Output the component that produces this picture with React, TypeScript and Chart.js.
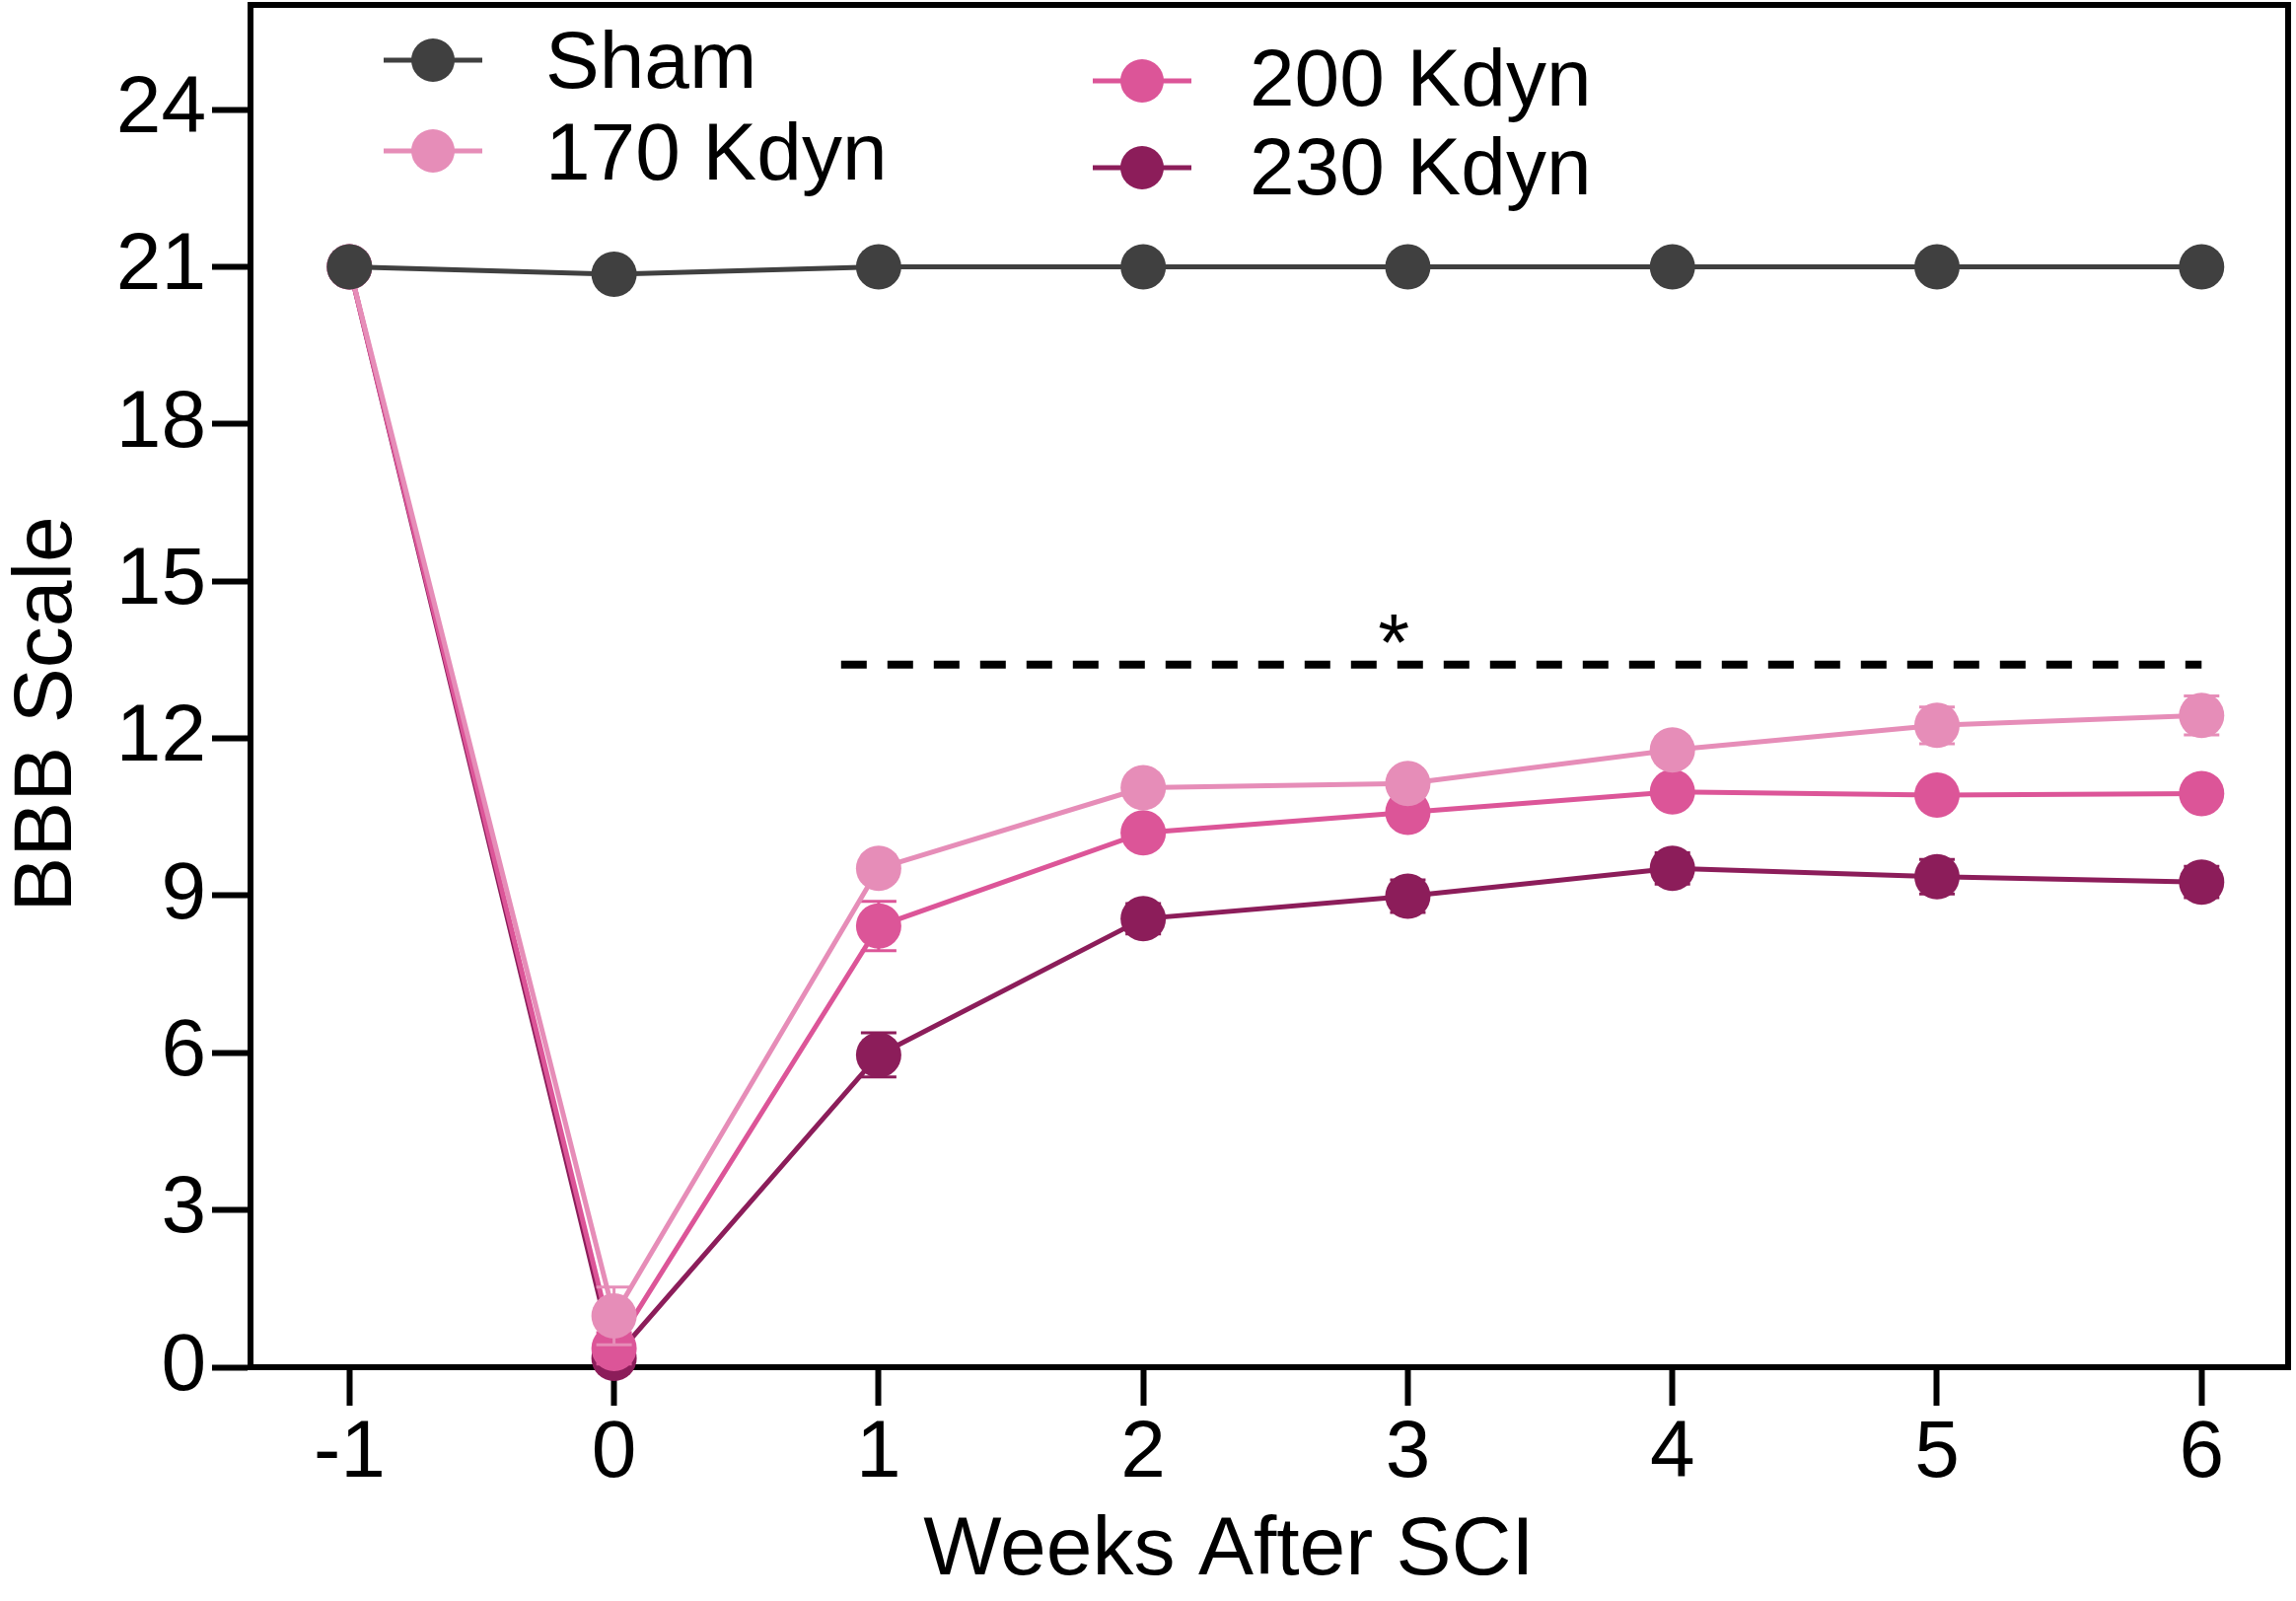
import React, { useEffect, useRef } from "react";
import { Chart, registerables } from "chart.js";

Chart.register(...registerables);

// ---------- data ----------
const weeks = [-1, 0, 1, 2, 3, 4, 5, 6];
const xTickValues = [-1, 0, 1, 2, 3, 4, 5, 6];
const xTickLabels = ["-1", "0", "1", "2", "3", "4", "5", "6"];
const yTickValues = [0, 3, 6, 9, 12, 15, 18, 21, 24];
const seriesNames = ["Sham", "170 Kdyn", "200 Kdyn", "230 Kdyn"];
const seriesColors = ["#404040", "#E68DB8", "#DC5598", "#8C1D5A"];

const shamMean = [21, 20.86, 21, 21, 21, 21, 21, 21];
const k170Mean = [21, 0.98, 9.52, 11.06, 11.14, 11.78, 12.25, 12.44];
const k200Mean = [21, 0.36, 8.42, 10.2, 10.59, 10.98, 10.92, 10.95];
const k230Mean = [21, 0.17, 5.96, 8.56, 8.99, 9.52, 9.36, 9.26];

const shamSem = [0, 0.08, 0, 0, 0, 0, 0, 0];
const k170Sem = [0, 0.55, 0.25, 0.2, 0.2, 0.25, 0.35, 0.37];
const k200Sem = [0, 0.3, 0.47, 0.2, 0.25, 0.2, 0.2, 0.2];
const k230Sem = [0, 0.15, 0.42, 0.29, 0.31, 0.3, 0.33, 0.3];

const sigLineRange = [0.858, 6.0];
const sigLineValue = 13.41;
const sigStarText = "*";
const sigStarWeek = 2.947;
const sigStarValue = 13.32;

const xTitle = "Weeks After SCI";
const yTitle = "BBB Scale";

const means = [shamMean, k170Mean, k200Mean, k230Mean];
const sems = [shamSem, k170Sem, k200Sem, k230Sem];

const FONT = '"Liberation Sans", Arial, Helvetica, sans-serif';

// ---------- plugins ----------
const errorBarPlugin = {
  id: "errorBars",
  beforeDatasetDraw(chart: any, args: any) {
    const i = args.index;
    const ds = chart.data.datasets[i];
    const sem: number[] = ds.sem;
    const mean: number[] = ds.mean;
    if (!sem) return;
    const xs = chart.scales.x;
    const ys = chart.scales.y;
    const ctx = chart.ctx;
    ctx.save();
    ctx.strokeStyle = ds.borderColor;
    ctx.lineWidth = 3;
    for (let j = 0; j < sem.length; j++) {
      if (!sem[j]) continue;
      const px = xs.getPixelForValue(weeks[j]);
      const top = ys.getPixelForValue(mean[j] + sem[j]);
      const bot = ys.getPixelForValue(mean[j] - sem[j]);
      ctx.beginPath();
      ctx.moveTo(px, top);
      ctx.lineTo(px, bot);
      ctx.moveTo(px - 18, top);
      ctx.lineTo(px + 18, top);
      ctx.moveTo(px - 18, bot);
      ctx.lineTo(px + 18, bot);
      ctx.stroke();
    }
    ctx.restore();
  },
};

const framePlugin = {
  id: "frame",
  beforeDatasetsDraw(chart: any) {
    const { ctx, chartArea } = chart;
    ctx.save();
    ctx.strokeStyle = "#000";
    ctx.lineWidth = 6;
    ctx.beginPath();
    ctx.moveTo(chartArea.left - 3, chartArea.top);
    ctx.lineTo(chartArea.right, chartArea.top);
    ctx.lineTo(chartArea.right, chartArea.bottom + 3);
    ctx.stroke();
    ctx.restore();
  },
};

const annotationPlugin = {
  id: "sigAnnot",
  afterDatasetsDraw(chart: any) {
    const { ctx } = chart;
    const xs = chart.scales.x;
    const ys = chart.scales.y;
    const y = ys.getPixelForValue(sigLineValue);
    ctx.save();
    ctx.strokeStyle = "#000";
    ctx.lineWidth = 8;
    ctx.setLineDash([26, 21]);
    ctx.beginPath();
    ctx.moveTo(xs.getPixelForValue(sigLineRange[0]), y);
    ctx.lineTo(xs.getPixelForValue(sigLineRange[1]), y);
    ctx.stroke();
    ctx.setLineDash([]);
    ctx.fillStyle = "#000";
    ctx.font = `82px ${FONT}`;
    ctx.textAlign = "center";
    ctx.textBaseline = "alphabetic";
    ctx.fillText(sigStarText, xs.getPixelForValue(sigStarWeek), ys.getPixelForValue(sigStarValue));
    ctx.restore();
  },
};

const legendPlugin = {
  id: "customLegend",
  afterDraw(chart: any) {
    const { ctx } = chart;
    const items = [
      { cx: 439, cy: 61, tx: 553, ty: 89 },
      { cx: 439, cy: 153, tx: 553, ty: 182 },
      { cx: 1158, cy: 82, tx: 1267, ty: 107 },
      { cx: 1158, cy: 170, tx: 1267, ty: 197 },
    ];
    ctx.save();
    items.forEach((it, i) => {
      const ds = chart.data.datasets[i];
      ctx.strokeStyle = ds.borderColor;
      ctx.lineWidth = 5;
      ctx.beginPath();
      ctx.moveTo(it.cx - 50, it.cy);
      ctx.lineTo(it.cx + 50, it.cy);
      ctx.stroke();
      ctx.fillStyle = ds.borderColor;
      ctx.beginPath();
      ctx.arc(it.cx, it.cy, 22, 0, Math.PI * 2);
      ctx.fill();
      ctx.fillStyle = "#000";
      ctx.font = `82px ${FONT}`;
      ctx.textAlign = "left";
      ctx.textBaseline = "alphabetic";
      ctx.fillText(ds.label, it.tx, it.ty);
    });
    ctx.restore();
  },
};

const titlesPlugin = {
  id: "axisTitles",
  afterDraw(chart: any) {
    const { ctx } = chart;
    ctx.save();
    ctx.fillStyle = "#000";
    ctx.font = `84px ${FONT}`;
    ctx.textAlign = "center";
    ctx.textBaseline = "alphabetic";
    ctx.fillText(xTitle, 1246, 1596);
    ctx.translate(72, 724);
    ctx.rotate(-Math.PI / 2);
    ctx.fillText(yTitle, 0, 0);
    ctx.restore();
  },
};

export default function App() {
  const canvasRef = useRef<HTMLCanvasElement | null>(null);

  useEffect(() => {
    document.body.style.margin = "0";
    document.body.style.overflow = "hidden";
    const canvas = canvasRef.current;
    if (!canvas) return;

    const datasets = seriesNames.map((name, i) => ({
      label: name,
      data: weeks.map((w, j) => ({ x: w, y: means[i][j] })),
      mean: means[i],
      sem: sems[i],
      borderColor: seriesColors[i],
      backgroundColor: seriesColors[i],
      pointBackgroundColor: seriesColors[i],
      pointBorderColor: seriesColors[i],
      pointBorderWidth: 0,
      pointRadius: 23,
      pointHoverRadius: 23,
      borderWidth: 5,
      tension: 0,
      showLine: true,
      clip: false,
    }));

    const chart = new Chart(canvas, {
      type: "line",
      data: { datasets } as any,
      options: {
        responsive: false,
        animation: false,
        layout: { autoPadding: false, padding: { top: 5, right: 8, left: 0, bottom: 0 } },
        plugins: {
          legend: { display: false },
          tooltip: { enabled: false },
        },
        scales: {
          x: {
            type: "linear",
            min: -1.374,
            max: 6.327,
            afterBuildTicks: (s: any) => {
              s.ticks = xTickValues.map((v) => ({ value: v }));
            },
            afterFit: (s: any) => {
              s.height = 237;
              s.paddingLeft = 0;
              s.paddingRight = 0;
              s.paddingTop = 0;
              s.paddingBottom = 0;
            },
            ticks: {
              font: { family: FONT, size: 82 },
              color: "#000",
              padding: 0,
              maxRotation: 0,
              callback: (v: any) => {
                const k = xTickValues.indexOf(Number(v));
                return k >= 0 ? xTickLabels[k] : "";
              },
            },
            grid: {
              display: true,
              drawOnChartArea: false,
              drawTicks: true,
              tickLength: 39,
              tickWidth: 6,
              tickColor: "#000",
              color: "#000",
            },
            border: { display: true, width: 6, color: "#000" },
          },
          y: {
            type: "linear",
            min: 0,
            max: 26,
            afterBuildTicks: (s: any) => {
              s.ticks = yTickValues.map((v) => ({ value: v }));
            },
            afterFit: (s: any) => {
              s.width = 254;
              s.paddingLeft = 0;
              s.paddingRight = 0;
              s.paddingTop = 0;
              s.paddingBottom = 0;
            },
            ticks: {
              font: { family: FONT, size: 82 },
              color: "#000",
              padding: 6,
              callback: (v: any) => String(v),
            },
            grid: {
              display: true,
              drawOnChartArea: false,
              drawTicks: true,
              tickLength: 39,
              tickWidth: 6,
              tickColor: "#000",
              color: "#000",
            },
            border: { display: true, width: 6, color: "#000" },
          },
        },
      } as any,
      plugins: [errorBarPlugin, framePlugin, annotationPlugin, legendPlugin, titlesPlugin],
    });

    return () => {
      chart.destroy();
    };
  }, []);

  return (
    <div style={{ width: 2328, height: 1623, position: "relative", background: "#fff" }}>
      <canvas ref={canvasRef} width={2328} height={1623} style={{ display: "block" }} />
    </div>
  );
}
